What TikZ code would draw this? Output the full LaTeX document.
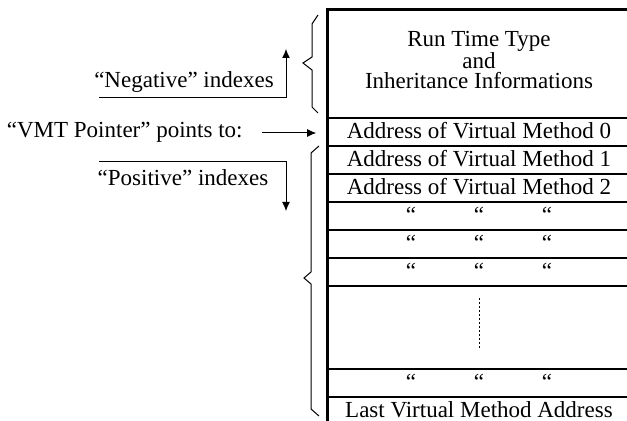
\documentclass[tikz,border=0pt]{standalone}
\usepackage{fontspec}
\setmainfont{Liberation Serif}
\usetikzlibrary{arrows.meta}

\tikzset{
	cell/.style={rectangle, draw, line width=0.8pt, minimum width=151pt, minimum height=14pt, inner sep=0pt, text height=8pt, text depth=1pt},
	label text/.style={inner sep=0pt, text height=8pt, text depth=1pt},
	idx arrow/.style={-{Latex[length=4.5pt,width=4pt]}, line width=0.5pt},
	side brace/.style={line width=0.5pt, line join=miter}
}

\begin{document}
\begin{tikzpicture}[x=0.5pt, y=-0.5pt, font=\fontsize{11.5}{10}\selectfont]
		\useasboundingbox (0,0) rectangle (627,421);

		% table rows
		\node[cell, minimum height=54pt](rttiBox) at (479,64){};
		\node[align=center, inner sep=0pt](rttiText) at (479,60){Run Time Type\\and\\Inheritance Informations};
		\node[cell](vm0Box) at (479,132){Address of Virtual Method 0};
		\node[cell](vm1Box) at (479,160){Address of Virtual Method 1};
		\node[cell](vm2Box) at (479,188){Address of Virtual Method 2};
		\node[cell](same1Box) at (479,216){“\hspace{28.9pt}“\hspace{28.9pt}“};
		\node[cell](same2Box) at (479,244){“\hspace{28.9pt}“\hspace{28.9pt}“};
		\node[cell](same3Box) at (479,272){“\hspace{28.9pt}“\hspace{28.9pt}“};
		\node[cell, minimum height=41.5pt](gapBox) at (479,327.5){};
		\node[cell](same4Box) at (479,383){“\hspace{28.9pt}“\hspace{28.9pt}“};
		\node[cell](lastBox) at (479,411){Last Virtual Method Address};

		% draw thick table border
		\draw[line width=1.6pt] (lastBox.south west) -- (rttiBox.north west) -- (rttiBox.north east);

		% draw omitted rows
		\draw[line width=0.5pt, dash pattern=on 1pt off 1pt] ([yshift=14.5pt]gapBox.center) -- ([yshift=-11.5pt]gapBox.center);

		% draw braces
		\draw[side brace] (318,15) -- (312,24) -- (312,57) -- (303,63) -- (312,70) -- (312,107) -- (318,113);
		\draw[side brace] (319,146) -- (311,153) -- (311,272) -- (304,278) -- (311,284) -- (311,409) -- (319,416);

		% left labels
		\node[label text](negLabel) at (184,81){“Negative” indexes};
		\node[label text, anchor=east](vmtLabel) at (243,131){“VMT Pointer” points to:};
		\node[label text](posLabel) at (183,179){“Positive” indexes};

		% draw index arrows
		\coordinate (negStart) at (99,98);
		\coordinate (negTip) at (286,49);
		\coordinate (posStart) at (99,162);
		\coordinate (posTip) at (286,211);
		\draw[idx arrow] (negStart) -| (negTip);
		\draw[idx arrow] (posStart) -| (posTip);
		\draw[idx arrow, shorten <=9.5pt, shorten >=5.5pt] ([yshift=-1pt]vmtLabel.east) -- ([yshift=-1pt]vmtLabel.east -| vm0Box.west);
	\end{tikzpicture}
\end{document}
